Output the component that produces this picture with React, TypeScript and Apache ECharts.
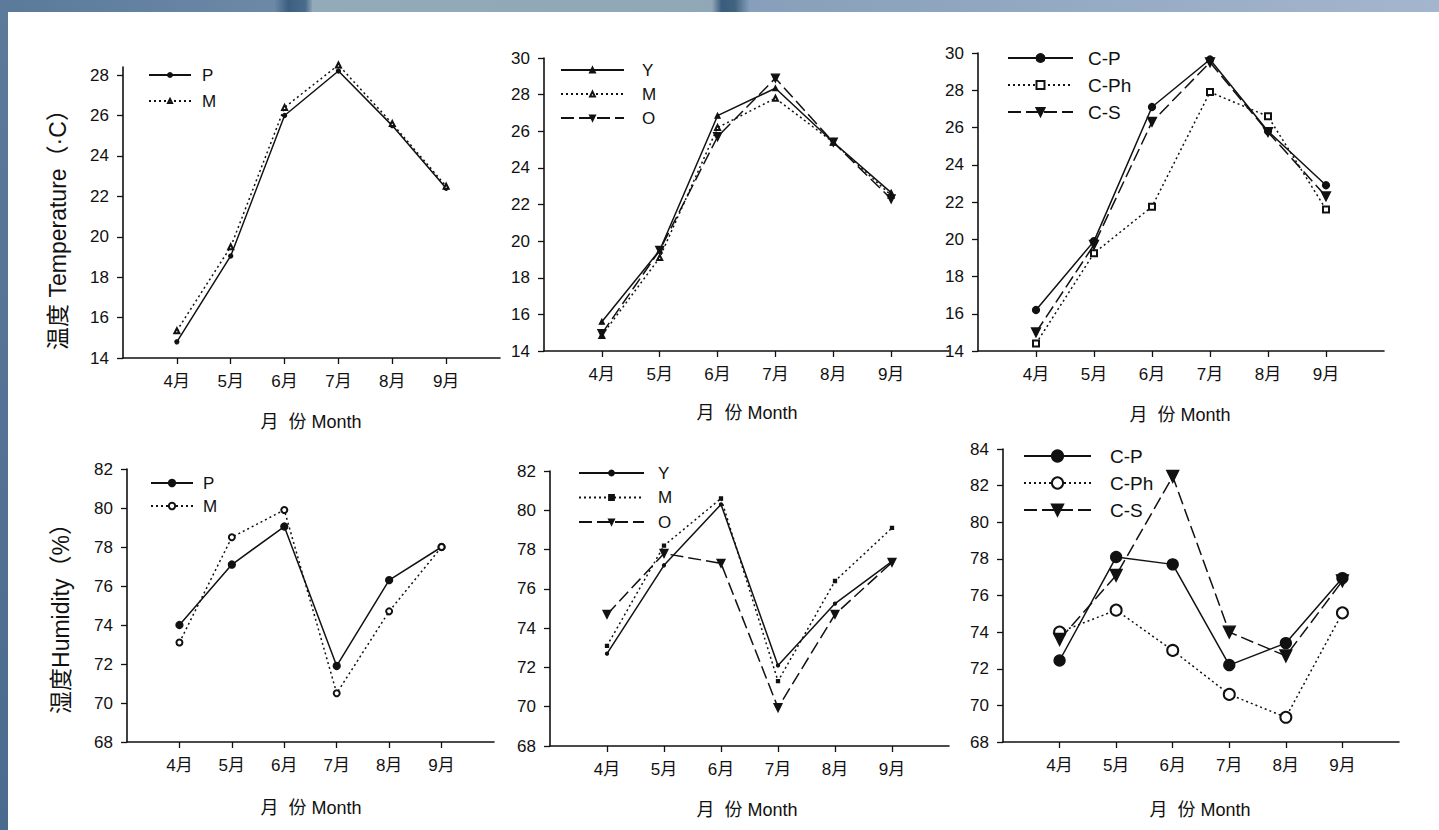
import React, { useEffect, useRef } from 'react';
import * as echarts from 'echarts';

// ---------- data ----------
const months = ['4月', '5月', '6月', '7月', '8月', '9月'];
const monthNums = [4, 5, 6, 7, 8, 9];

// Temperature (°C)
const t1P = [14.8, 19.05, 26.0, 28.2, 25.5, 22.4];
const t1M = [15.35, 19.5, 26.4, 28.5, 25.6, 22.5];
const t2Y = [15.6, 19.5, 26.85, 28.35, 25.4, 22.65];
const t2M = [14.85, 19.1, 26.2, 27.8, 25.4, 22.5];
const t2O = [14.95, 19.5, 25.7, 28.9, 25.4, 22.3];
const t3CP = [16.2, 19.9, 27.1, 29.65, 25.8, 22.9];
const t3CPh = [14.4, 19.25, 21.75, 27.9, 26.6, 21.6];
const t3CS = [15.0, 19.7, 26.3, 29.5, 25.75, 22.3];

// Humidity (%)
const h1P = [74.0, 77.1, 79.05, 71.9, 76.3, 78.0];
const h1M = [73.1, 78.5, 79.9, 70.5, 74.7, 78.0];
const h2Y = [72.7, 77.2, 80.3, 72.1, 75.25, 77.4];
const h2M = [73.1, 78.2, 80.6, 71.3, 76.4, 79.1];
const h2O = [74.7, 77.8, 77.3, 69.95, 74.7, 77.35];
const h3CP = [72.45, 78.1, 77.7, 72.2, 73.4, 76.95];
const h3CPh = [74.0, 75.2, 73.0, 70.6, 69.35, 75.05];
const h3CS = [73.6, 77.1, 82.5, 74.0, 72.7, 76.8];

// tick labels
const tempTicks28 = [14, 16, 18, 20, 22, 24, 26, 28];
const tempTicks30 = [14, 16, 18, 20, 22, 24, 26, 28, 30];
const humTicks82 = [68, 70, 72, 74, 76, 78, 80, 82];
const humTicks84 = [68, 70, 72, 74, 76, 78, 80, 82, 84];

const yTitleTemp = '温度 Temperature（·C）';
const yTitleHum = '湿度Humidity（%）';
const xTitle = '月  份 Month';

// ---------- layout ----------
const FONT = '"Liberation Sans", Arial, "Noto Sans CJK SC", sans-serif';
const INK = '#111';

const panels = [
  { left: 123, top: 67, width: 377, height: 291, yMin: 14, yMax: 28.4, ticks: tempTicks28 },
  { left: 544, top: 58, width: 405, height: 293, yMin: 14, yMax: 30, ticks: tempTicks30 },
  { left: 978, top: 53, width: 406, height: 298, yMin: 14, yMax: 30, ticks: tempTicks30 },
  { left: 127, top: 469, width: 367, height: 273, yMin: 68, yMax: 82, ticks: humTicks82 },
  { left: 550, top: 471, width: 399, height: 275, yMin: 68, yMax: 82, ticks: humTicks82 },
  { left: 1003, top: 449, width: 396, height: 293, yMin: 68, yMax: 84, ticks: humTicks84 },
];

const SOLID = 'solid';
const DOT = [2, 3];
const DASH = [13, 5];

type S = {
  panel: number;
  name: string;
  values: number[];
  dash: any;
  symbol: string;
  size: number;
  rotate?: number;
};

const seriesDefs: S[] = [
  { panel: 0, name: 'P', values: t1P, dash: SOLID, symbol: 'circle', size: 4 },
  { panel: 0, name: 'M', values: t1M, dash: DOT, symbol: 'emptyTriangle', size: 5 },
  { panel: 1, name: 'Y', values: t2Y, dash: SOLID, symbol: 'triangle', size: 5 },
  { panel: 1, name: 'M', values: t2M, dash: DOT, symbol: 'emptyTriangle', size: 5 },
  { panel: 1, name: 'O', values: t2O, dash: DASH, symbol: 'triangle', size: 8, rotate: 180 },
  { panel: 2, name: 'C-P', values: t3CP, dash: SOLID, symbol: 'circle', size: 7 },
  { panel: 2, name: 'C-Ph', values: t3CPh, dash: DOT, symbol: 'emptyRect', size: 6 },
  { panel: 2, name: 'C-S', values: t3CS, dash: DASH, symbol: 'triangle', size: 9, rotate: 180 },
  { panel: 3, name: 'P', values: h1P, dash: SOLID, symbol: 'circle', size: 7 },
  { panel: 3, name: 'M', values: h1M, dash: DOT, symbol: 'emptyCircle', size: 6 },
  { panel: 4, name: 'Y', values: h2Y, dash: SOLID, symbol: 'circle', size: 3 },
  { panel: 4, name: 'M', values: h2M, dash: DOT, symbol: 'rect', size: 3 },
  { panel: 4, name: 'O', values: h2O, dash: DASH, symbol: 'triangle', size: 8, rotate: 180 },
  { panel: 5, name: 'C-P', values: h3CP, dash: SOLID, symbol: 'circle', size: 11 },
  { panel: 5, name: 'C-Ph', values: h3CPh, dash: DOT, symbol: 'emptyCircle', size: 11 },
  { panel: 5, name: 'C-S', values: h3CS, dash: DASH, symbol: 'triangle', size: 12, rotate: 180 },
];

// legend placement per panel
const legends = [
  { left: 148, top: 65.5, itemWidth: 42, itemHeight: 5, gap: 7, font: 17, pad: 6 },
  { left: 560, top: 60.5, itemWidth: 63, itemHeight: 6, gap: 5, font: 17, pad: 13 },
  { left: 1007, top: 47.5, itemWidth: 65, itemHeight: 10, gap: 6, font: 19, pad: 10 },
  { left: 150, top: 473.5, itemWidth: 42, itemHeight: 8, gap: 4, font: 17, pad: 5 },
  { left: 578, top: 463.5, itemWidth: 65, itemHeight: 6, gap: 5.5, font: 17, pad: 9 },
  { left: 1023, top: 445.5, itemWidth: 67, itemHeight: 14, gap: 6, font: 19, pad: 14 },
];

const xTitlePos = [
  [311, 422],
  [747, 413],
  [1180, 415],
  [311, 808],
  [747, 810],
  [1200, 810],
];

function buildOption() {
  const grid = panels.map((p) => ({ left: p.left, top: p.top, width: p.width, height: p.height }));
  const xAxis = panels.map((_, i) => ({
    type: 'value',
    gridIndex: i,
    min: 3,
    max: 10,
    interval: 1,
    axisLine: { show: true, onZero: false, lineStyle: { color: INK, width: 1.6 } },
    axisTick: { show: true, length: 6, customValues: monthNums, lineStyle: { color: INK, width: 1.3 } },
    axisLabel: {
      customValues: monthNums,
      formatter: (v: number) => months[v - 4] ?? '',
      color: INK,
      fontSize: 17,
      fontFamily: FONT,
      margin: 15,
    },
    splitLine: { show: false },
  }));
  const yAxis = panels.map((p, i) => ({
    type: 'value',
    gridIndex: i,
    min: p.yMin,
    max: p.yMax,
    interval: 2,
    axisLine: { show: true, onZero: false, lineStyle: { color: INK, width: 1.6 } },
    axisTick: { show: true, length: 6, customValues: p.ticks, lineStyle: { color: INK, width: 1.3 } },
    axisLabel: {
      customValues: p.ticks,
      color: INK,
      fontSize: 17,
      fontFamily: FONT,
      margin: 14,
    },
    splitLine: { show: false },
  }));

  const series = seriesDefs.map((s) => ({
    type: 'line',
    name: `p${s.panel}:${s.name}`,
    xAxisIndex: s.panel,
    yAxisIndex: s.panel,
    data: monthNums.map((m, i) => [m, s.values[i]]),
    clip: false,
    symbol: s.symbol,
    symbolSize: s.size,
    symbolRotate: s.rotate ?? 0,
    showAllSymbol: true,
    lineStyle: { color: INK, width: 1.5, type: s.dash },
    itemStyle: { color: INK, borderColor: INK, borderWidth: 1.3 },
    emphasis: { disabled: true },
  }));

  const legend = legends.map((l, i) => ({
    orient: 'vertical',
    left: l.left,
    top: l.top,
    padding: 0,
    itemWidth: l.itemWidth,
    itemHeight: l.itemHeight,
    itemGap: l.gap,
    selectedMode: false,
    data: seriesDefs.filter((s) => s.panel === i).map((s) => `p${s.panel}:${s.name}`),
    formatter: (n: string) => n.split(':')[1],
    textStyle: {
      color: INK,
      fontSize: l.font,
      fontFamily: FONT,
      lineHeight: l.font + 2,
      padding: [0, 0, 0, l.pad],
    },
  }));

  const bandGrad = (stops: [number, string][]) => ({
    type: 'linear',
    x: 0,
    y: 0,
    x2: 1,
    y2: 0,
    colorStops: stops.map(([o, c]) => ({ offset: o, color: c })),
  });

  const graphic: any[] = [
    // slide background bands
    { type: 'rect', z: -10, shape: { x: 0, y: 0, width: 282, height: 12 }, style: { fill: bandGrad([[0, '#5b7999'], [1, '#6c89a8']]) } },
    { type: 'rect', z: -10, shape: { x: 275, y: 0, width: 38, height: 12 }, style: { fill: bandGrad([[0, '#6a86a6'], [0.35, '#3c5f80'], [0.8, '#4a6c8c'], [1, '#92a8b7']]) } },
    { type: 'rect', z: -10, shape: { x: 312, y: 0, width: 402, height: 12 }, style: { fill: bandGrad([[0, '#93aab8'], [1, '#90a7b6']]) } },
    { type: 'rect', z: -10, shape: { x: 712, y: 0, width: 38, height: 12 }, style: { fill: bandGrad([[0, '#90a7b6'], [0.25, '#3b5d7e'], [0.6, '#41637f'], [1, '#87a0bb']]) } },
    { type: 'rect', z: -10, shape: { x: 749, y: 0, width: 690, height: 12 }, style: { fill: bandGrad([[0, '#879fba'], [1, '#a4b6cd']]) } },
    { type: 'rect', z: -10, shape: { x: 0, y: 0, width: 8, height: 830 }, style: { fill: { type: 'linear', x: 0, y: 0, x2: 0, y2: 1, colorStops: [{ offset: 0, color: '#5c7a9a' }, { offset: 1, color: '#4a6a8f' }] } } },
    // y axis titles
    {
      type: 'text',
      x: 58,
      y: 224,
      rotation: Math.PI / 2,
      style: { text: yTitleTemp, fontSize: 23, fontFamily: FONT, fill: INK, align: 'center', verticalAlign: 'middle' },
    },
    {
      type: 'text',
      x: 61,
      y: 613,
      rotation: Math.PI / 2,
      style: { text: yTitleHum, fontSize: 23, fontFamily: FONT, fill: INK, align: 'center', verticalAlign: 'middle' },
    },
    ...xTitlePos.map(([x, y]) => ({
      type: 'text',
      x,
      y,
      style: { text: xTitle, fontSize: 18, fontFamily: FONT, fill: INK, align: 'center', verticalAlign: 'middle' },
    })),
  ];

  return {
    animation: false,
    backgroundColor: '#ffffff',
    grid,
    xAxis,
    yAxis,
    legend,
    series,
    graphic,
  };
}

export default function App() {
  const ref = useRef<HTMLDivElement>(null);
  useEffect(() => {
    if (!ref.current) return;
    const chart = echarts.init(ref.current, undefined, { renderer: 'svg' });
    chart.setOption(buildOption() as any);
    return () => chart.dispose();
  }, []);
  return (
    <div
      ref={ref}
      style={{ position: 'fixed', left: 0, top: 0, width: 1439, height: 830 }}
    />
  );
}
